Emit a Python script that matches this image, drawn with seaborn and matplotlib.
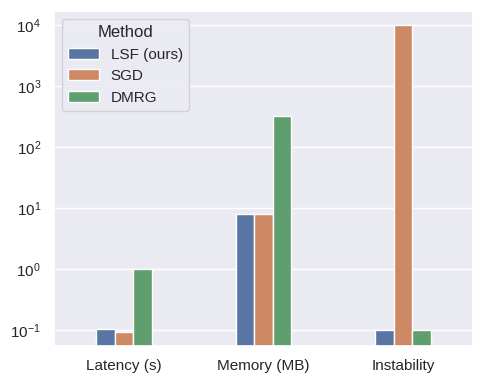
import pandas as pd
import matplotlib.pyplot as plt
import seaborn as sns

# values (log scale)
metrics = ['Latency (s)', 'Memory (MB)', 'Instability']
methods = ['LSF (ours)', 'SGD', 'DMRG']
lsf_vals = [0.104, 8.0, 0.1]
sgd_vals = [0.093, 8.0, 10000]
dmrg_vals = [1.02, 330, 0.1]

rows = []
for method, vals in zip(methods, [lsf_vals, sgd_vals, dmrg_vals]):
    for metric, v in zip(metrics, vals):
        rows.append({'Metric': metric, 'Method': method, 'Value': v})
df = pd.DataFrame(rows)

sns.set_theme(style="darkgrid")
plt.rcParams['font.family'] = ['Liberation Sans', 'DejaVu Sans']
fig, ax = plt.subplots(figsize=(4.84, 3.84), dpi=100)
sns.barplot(data=df, x='Metric', y='Value', hue='Method', width=0.4, ax=ax)
ax.set_yscale('log')
ax.set_ylim(0.055, 17000)
ax.set_xlim(-0.5, 2.5)
ax.set_xlabel('')
ax.set_ylabel('')
ax.legend(title='Method', loc='upper left')

fig.subplots_adjust(left=0.112, right=0.977, top=0.971, bottom=0.099)
fig.savefig('out.png', dpi=100)
